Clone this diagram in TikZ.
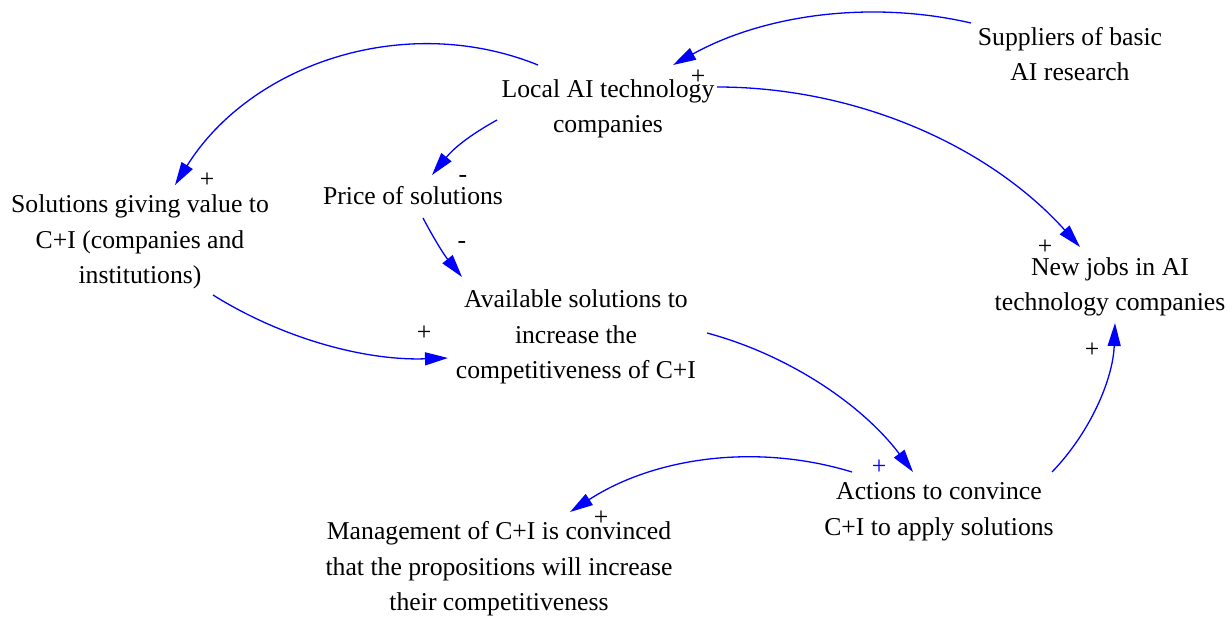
\documentclass[tikz,border=0pt]{standalone}
\usepackage{fontspec}
\setmainfont{Liberation Serif}
\usetikzlibrary{arrows.meta}
\definecolor{linkblue}{RGB}{0,0,255}
\begin{document}
\begin{tikzpicture}[x=1pt,y=1pt,
  var/.style={align=center, inner sep=0pt, font=\fontsize{25.7}{35.5}\selectfont},
  sign/.style={inner sep=0pt, font=\fontsize{25.7}{30}\selectfont},
  link/.style={draw=linkblue, line width=1.3pt, -{Triangle[length=23pt,width=13pt]}}]
\path[use as bounding box] (0,0) rectangle (1232,-619);

% variables
\node[var] (sup)   at (1070,-54)  {Suppliers of basic\\AI research};
\node[var] (local) at (608,-109)  {Local AI technology\\companies};
\node[var] (sol)   at (140,-242)  {Solutions giving value to\\C+I (companies and\\institutions)};
\node[var] (price) at (413,-196)  {Price of solutions};
\node[var] (avail) at (576,-337)  {Available solutions to\\increase the\\competitiveness of C+I};
\node[var] (jobs)  at (1110,-287) {New jobs in AI\\technology companies};
\node[var] (act)   at (939,-512)  {Actions to convince\\C+I to apply solutions};
\node[var] (mgmt)  at (499,-569)  {Management of C+I is convinced\\that the propositions will increase\\their competitiveness};

% causal links
\draw[link] ([shift={(-99,31)}]sup.center) to[out=167,in=29,looseness=0.88] ([shift={(65,44)}]local.center);
\draw[link] ([shift={(-70,44)}]local.center) to[out=158,in=58,looseness=0.96] ([shift={(35,57)}]sol.center);
\draw[link] ([shift={(-111,-11)}]local.center) to[out=209,in=51] ([shift={(19,21)}]price.center);
\draw[link] ([shift={(10,-22)}]price.center) to[out=-62,in=129] ([shift={(-114,60)}]avail.center);
\draw[link] ([shift={(73,-53)}]sol.center) to[out=-32,in=182,looseness=0.87] ([shift={(-128,-21)}]avail.center);
\draw[link] ([shift={(109,22)}]local.center) to[out=0,in=132,looseness=0.89] ([shift={(-30,40)}]jobs.center);
\draw[link] ([shift={(131,4)}]avail.center) to[out=-15,in=127,looseness=0.87] ([shift={(-26,40)}]act.center);
\draw[link] ([shift={(-87,40)}]act.center) to[out=163,in=33,looseness=0.9] ([shift={(71,57)}]mgmt.center);
\draw[link] ([shift={(113,40)}]act.center) to[out=46,in=-92,looseness=0.88] ([shift={(5,-36)}]jobs.center);

% polarities
\node[sign] (s1) at (698,-77)  {+};
\node[sign] (s2) at (207,-180) {+};
\node[sign] (s3) at (463,-179) {-};
\node[sign] (s4) at (462,-245) {-};
\node[sign] (s5) at (424,-333) {+};
\node[sign] (s6) at (1045,-247) {+};
\node[sign, text=linkblue] (s7) at (879,-467) {+};
\node[sign] (s8) at (601,-518) {+};
\node[sign] (s9) at (1092,-350) {+};
\end{tikzpicture}
\end{document}
